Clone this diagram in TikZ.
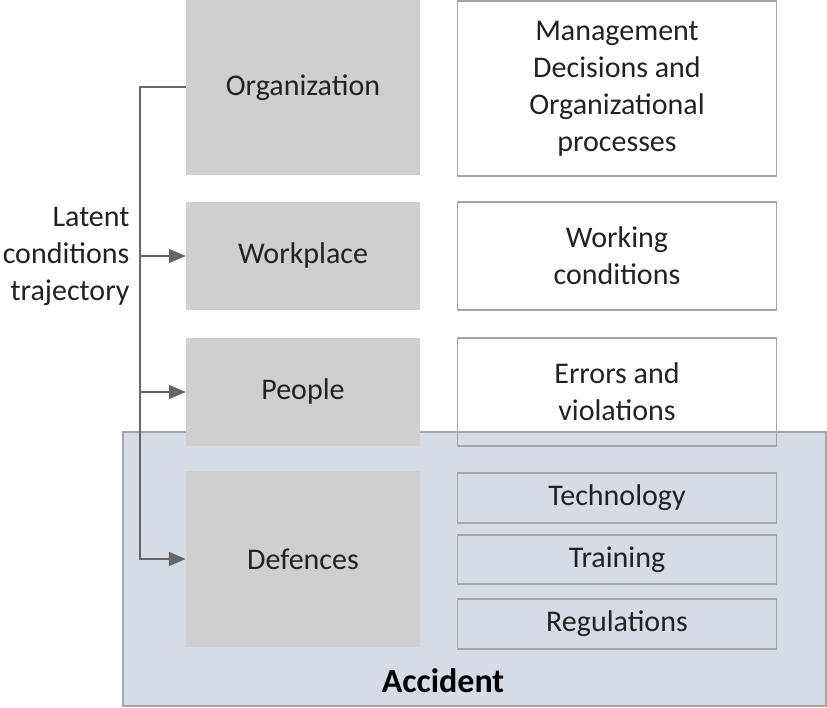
\documentclass[tikz,border=0pt]{standalone}
\usepackage{fontspec}
\setmainfont{Carlito}
\usetikzlibrary{arrows.meta}
\definecolor{layergray}{HTML}{D0CECE}
\definecolor{accblue}{HTML}{D6DCE5}
\definecolor{framegray}{HTML}{A6A6A6}
\definecolor{linegray}{HTML}{666666}
\definecolor{txtgray}{HTML}{222222}
\begin{document}
\begin{tikzpicture}[x=1pt, y=-1pt,
    layer/.style={rectangle, fill=layergray, inner sep=0pt, minimum width=234pt, text=txtgray, font=\fontsize{30}{37}\selectfont},
    factor/.style={rectangle, draw=framegray, line width=1.2pt, inner sep=0pt, minimum width=319pt, align=center, text=txtgray, font=\fontsize{30}{37}\selectfont},
    traj/.style={draw=linegray, line width=2pt, -{Triangle[length=17pt, width=14pt]}}]
    \useasboundingbox (0,0) rectangle (827,708);

    % accident zone behind everything
    \node [rectangle, fill=accblue, draw=framegray, line width=1.2pt, minimum width=703pt, minimum height=274pt, inner sep=0pt] (acc) at (474.5,569) {};
    \node [font=\fontsize{34}{40}\selectfont\bfseries] (acclabel) at (443,681) {Accident};

    \node [layer, minimum height=175pt] (org) at (303,87.5) {Organization};
    \node [layer, minimum height=108pt] (wp) at (303,256) {Workplace};
    \node [layer, minimum height=108pt] (ppl) at (303,392) {People};
    \node [layer, minimum height=176pt] (def) at (303,559) {Defences};

    \node [factor, minimum height=175pt] (mgmt) at (617,88.5) {Management\\Decisions and\\Organizational\\processes};
    \node [factor, minimum height=108pt] (wc) at (617,256) {Working\\conditions};
    \node [factor, minimum height=108pt] (ev) at (617,392) {Errors and\\violations};
    \node [factor, minimum height=50pt] (tech) at (617,498) {Technology};
    \node [factor, minimum height=49pt] (train) at (617,559.5) {Training};
    \node [factor, minimum height=50pt] (reg) at (617,624) {Regulations};

    \node [anchor=east, align=right, text=txtgray, font=\fontsize{30}{37}\selectfont] (latent) at (133,256) {Latent\\conditions\\trajectory};

    \coordinate (spine) at (140,0);
    \draw [traj] (org.west) -- (org.west -| spine) |- (def.west);
    \draw [traj] (spine |- wp.west) -- (wp.west);
    \draw [traj] (spine |- ppl.west) -- (ppl.west);
\end{tikzpicture}
\end{document}
